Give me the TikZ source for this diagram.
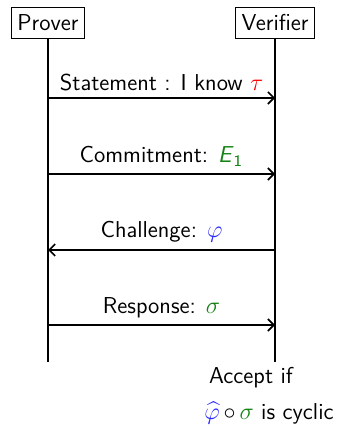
\documentclass[tikz,border=0pt]{standalone}
\usepackage{amsmath, amssymb}
\usepackage{tikz}
\usetikzlibrary{arrows.meta,positioning}
\definecolor{vertMsg}{RGB}{20,130,20}
\definecolor{bleuMsg}{RGB}{40,40,255}

\begin{document}
\begin{tikzpicture}[x=0.5pt,y=-0.5pt,font=\sffamily\fontsize{11.5}{14}\selectfont,
  acteur/.style={rectangle,draw=black,line width=0.5pt,inner sep=3pt,minimum height=15.5pt},
  vie/.style={line width=0.8pt},
  message/.style={line width=0.8pt,-{Straight Barb[length=3pt,width=6pt]}}]

  \useasboundingbox (0,0) rectangle (341,426);

  \node[acteur] (prover)   at (48,23)  {Prover};
  \node[acteur] (verifier) at (275,23) {Verifier};

  \coordinate (proverEnd)   at (48,362);
  \coordinate (verifierEnd) at (275,362);
  \draw[vie] (prover.south) -- (proverEnd);
  \draw[vie] (verifier.south) -- (verifierEnd);

  % messages
  \coordinate (p1) at (48,98);  \coordinate (v1) at (275,98);
  \coordinate (p2) at (48,174); \coordinate (v2) at (275,174);
  \coordinate (p3) at (48,250); \coordinate (v3) at (275,250);
  \coordinate (p4) at (48,325); \coordinate (v4) at (275,325);

  \draw[message] (p1) -- node[above] (statement) {Statement : I know \textcolor{red}{$\tau$}} (v1);
  \draw[message] (p2) -- node[above] (commitment) {Commitment: \textcolor{vertMsg}{\textsl{E}$_{\textsf{1}}$}} (v2);
  \draw[message] (v3) -- node[above] (challenge) {Challenge: \textcolor{bleuMsg}{$\varphi$}} (p3);
  \draw[message] (p4) -- node[above] (response) {Response: \textcolor{vertMsg}{$\sigma$}} (v4);

  \node (accept) at (251,378) {Accept if};
  \node (cyclic) at (269,413)
    {\textcolor{bleuMsg}{$\widehat{\varphi}$}\,$\circ$\,\textcolor{vertMsg}{$\sigma$} is cyclic};
\end{tikzpicture}
\end{document}
